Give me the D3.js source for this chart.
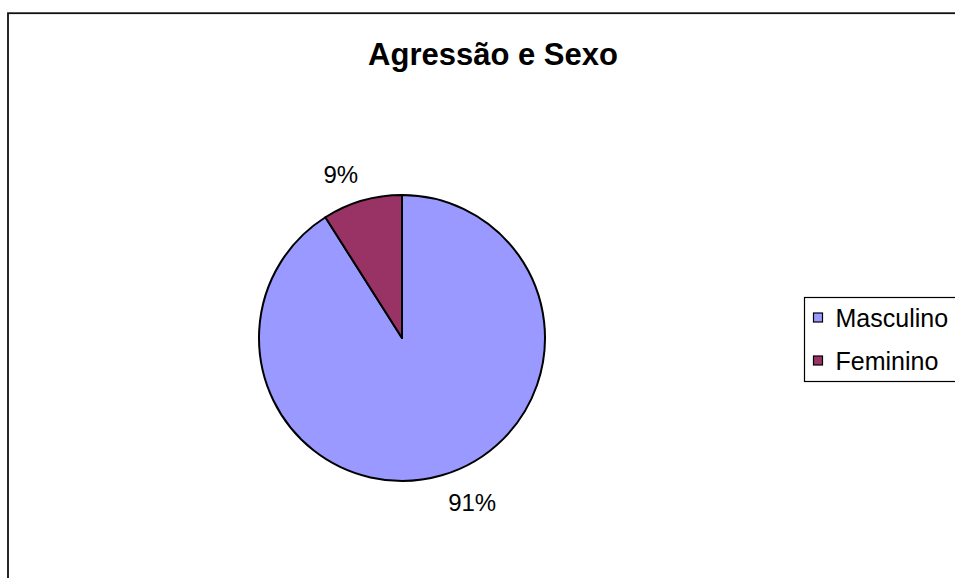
<!DOCTYPE html>
<html><head><meta charset="utf-8">
<script src="https://cdn.jsdelivr.net/npm/d3@7"></script>
<style>body{margin:0;background:#fff}svg{display:block}text{font-family:"Liberation Sans",Arial,sans-serif}</style>
</head><body>
<script>
const categories = ["Masculino", "Feminino"];
const values = [91, 9];
const labels = ["91%", "9%"];
const colors = ["#9999ff", "#993366"];
const title = "Agressão e Sexo";

const W = 955, H = 578;
const svg = d3.select("body").append("svg").attr("width", W).attr("height", H);

svg.append("rect").attr("x", 8).attr("y", 13.2).attr("width", 960).attr("height", 580)
  .attr("fill", "#fff").attr("stroke", "#111").attr("stroke-width", 1.8);

svg.append("text").attr("x", 493).attr("y", 64.5).attr("text-anchor", "middle")
  .attr("font-size", 31).attr("font-weight", "bold").text(title);

const cx = 402, cy = 338, r = 143;
const pie = d3.pie().sort(null).value(d => d);
const arcs = pie(values);
const arc = d3.arc().innerRadius(0).outerRadius(r);
const g = svg.append("g").attr("transform", `translate(${cx},${cy})`);
g.selectAll("path").data(arcs).join("path")
  .attr("d", arc).attr("fill", (d, i) => colors[i])
  .attr("stroke", "#000").attr("stroke-width", 2).attr("stroke-linejoin", "round");

const labelArc = d3.arc().innerRadius(171).outerRadius(171);
g.selectAll("text.lbl").data(arcs).join("text").attr("class", "lbl")
  .attr("x", d => { const x = labelArc.centroid(d)[0]; return x + Math.sign(x) * 18 + 4.5; })
  .attr("y", d => labelArc.centroid(d)[1] + 8.7)
  .attr("text-anchor", "middle").attr("font-size", 24)
  .text((d, i) => labels[i]);

// legend
const lg = svg.append("g");
lg.append("rect").attr("x", 804.5).attr("y", 297.5).attr("width", 160).attr("height", 84)
  .attr("fill", "#fff").attr("stroke", "#000").attr("stroke-width", 1.2);
const ly = d3.scalePoint().domain(categories).range([317.5, 360.5]);
categories.forEach((c, i) => {
  lg.append("rect").attr("x", 813.5).attr("y", ly(c) - 4.5).attr("width", 9).attr("height", 9)
    .attr("fill", colors[i]).attr("stroke", "#000").attr("stroke-width", 1.2);
  lg.append("text").attr("x", 835.5).attr("y", ly(c) + 9).attr("font-size", 25).text(c);
});
</script>
</body></html>
